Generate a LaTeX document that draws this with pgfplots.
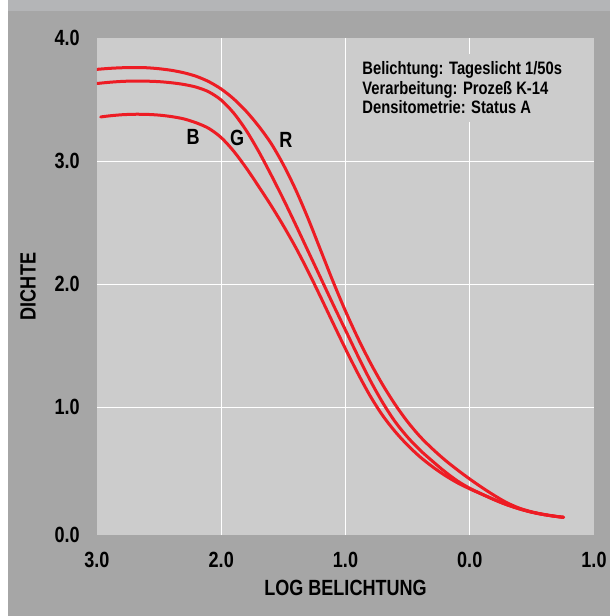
\documentclass[border=0pt]{standalone}
\usepackage{fontspec}
\setmainfont{Liberation Sans}[FakeStretch=0.82]
\usepackage{pgfplots}
\pgfplotsset{compat=1.18}
\definecolor{bgout}{HTML}{A6A6A6}
\definecolor{bgtop}{HTML}{B4B5B7}
\definecolor{plotbg}{HTML}{CCCCCC}
\definecolor{curvered}{RGB}{237,28,36}
\pgfplotsset{curve/.style={curvered, line width=1.5pt, line cap=round, smooth, no marks}}

\begin{document}
\begin{tikzpicture}
% background frame
\fill[white] (-48.5pt,-40.5pt) rectangle (256.5pt,267.5pt);
\fill[bgout] (-44.5pt,-40.5pt) rectangle (256.5pt,267.5pt);
\fill[bgtop] (-44.5pt,262pt) rectangle (256.5pt,267.5pt);
\begin{axis}[
  scale only axis,
  width=248.5pt, height=248.5pt,
  x dir=reverse,
  xmin=-1, xmax=3, ymin=-0.04, ymax=4,
  axis line style={draw=none},
  axis background/.style={fill=plotbg},
  xtick={2,1,0}, xticklabels={2.0,1.0,0.0},
  extra x ticks={3,-1}, extra x tick labels={3.0,1.0},
  extra x tick style={grid=none},
  ytick={1,2,3}, yticklabels={1.0,2.0,3.0},
  extra y ticks={-0.04,4}, extra y tick labels={0.0,4.0},
  extra y tick style={grid=none},
  grid=major,
  major grid style={white, line width=0.5pt},
  tick style={draw=none},
  tick label style={font=\fontsize{11}{13}\selectfont\bfseries, inner sep=0pt},
  x tick label style={anchor=north, yshift=-8.5pt},
  y tick label style={anchor=east, xshift=-8.5pt},
  xlabel={LOG BELICHTUNG},
  ylabel={DICHTE},
  label style={font=\fontsize{11}{13}\selectfont\bfseries, inner sep=0pt},
  xlabel style={at={(axis description cs:0.5,-0.1066)}, anchor=center},
  ylabel style={at={(axis description cs:-0.1388,0.5)}, anchor=center},
]
% R
\addplot[curve] coordinates {
 (3.0,3.745) (2.9,3.753) (2.8,3.758) (2.7,3.76) (2.6,3.758) (2.5,3.75)
 (2.4,3.737) (2.3,3.717) (2.2,3.688) (2.1,3.645) (2.0,3.585) (1.9,3.505)
 (1.8,3.405) (1.7,3.285) (1.6,3.145) (1.5,2.97) (1.4,2.765) (1.3,2.53)
 (1.2,2.275) (1.1,2.02) (1.0,1.78) (0.9,1.56) (0.8,1.36) (0.7,1.18)
 (0.6,1.02) (0.5,0.88) (0.4,0.76) (0.3,0.66) (0.2,0.57) (0.1,0.49)
 (0.0,0.415) (-0.1,0.345) (-0.2,0.28) (-0.3,0.222) (-0.4,0.178)
 (-0.5,0.148) (-0.6,0.127) (-0.7,0.111) (-0.755,0.104)
};
% G
\addplot[curve] coordinates {
 (3.0,3.63) (2.9,3.64) (2.8,3.647) (2.7,3.65) (2.6,3.649) (2.5,3.645)
 (2.4,3.636) (2.3,3.622) (2.2,3.60) (2.1,3.562) (2.0,3.495) (1.9,3.39)
 (1.8,3.25) (1.7,3.08) (1.6,2.89) (1.5,2.69) (1.4,2.48) (1.3,2.265)
 (1.2,2.05) (1.1,1.835) (1.0,1.625) (0.9,1.415) (0.8,1.215) (0.7,1.035)
 (0.6,0.88) (0.5,0.755) (0.4,0.65) (0.3,0.56) (0.2,0.475) (0.1,0.40)
 (0.0,0.34) (-0.1,0.292) (-0.2,0.247) (-0.3,0.206) (-0.4,0.172)
 (-0.5,0.145) (-0.6,0.125) (-0.7,0.11) (-0.755,0.104)
};
% B
\addplot[curve] coordinates {
 (2.97,3.358) (2.9,3.367) (2.8,3.376) (2.7,3.38) (2.6,3.379) (2.5,3.373)
 (2.4,3.361) (2.3,3.342) (2.2,3.31) (2.1,3.265) (2.0,3.19) (1.9,3.08)
 (1.8,2.945) (1.7,2.795) (1.6,2.64) (1.5,2.474) (1.4,2.296) (1.3,2.101)
 (1.2,1.894) (1.1,1.682) (1.0,1.473) (0.9,1.273) (0.8,1.088) (0.7,0.93)
 (0.6,0.80) (0.5,0.69) (0.4,0.595) (0.3,0.515) (0.2,0.445) (0.1,0.385)
 (0.0,0.335) (-0.1,0.29) (-0.2,0.245) (-0.3,0.205) (-0.4,0.172)
 (-0.5,0.145) (-0.6,0.125) (-0.7,0.11) (-0.755,0.104)
};
\node[font=\fontsize{11}{13}\selectfont\bfseries] at (axis cs:2.227,3.195) {B};
\node[font=\fontsize{11}{13}\selectfont\bfseries] at (axis cs:1.873,3.187) {G};
\node[font=\fontsize{11}{13}\selectfont\bfseries] at (axis cs:1.479,3.171) {R};
\node[anchor=north west, fill=plotbg, inner sep=4pt, align=left,
      font=\fontsize{9}{9.75}\selectfont\bfseries, xshift=-4pt, yshift=4pt]
  at (axis cs:0.867,3.81)
  {Belichtung: Tageslicht 1/50s\\Verarbeitung: Prozeß K-14\\Densitometrie: Status A};
\end{axis}
\end{tikzpicture}
\end{document}
